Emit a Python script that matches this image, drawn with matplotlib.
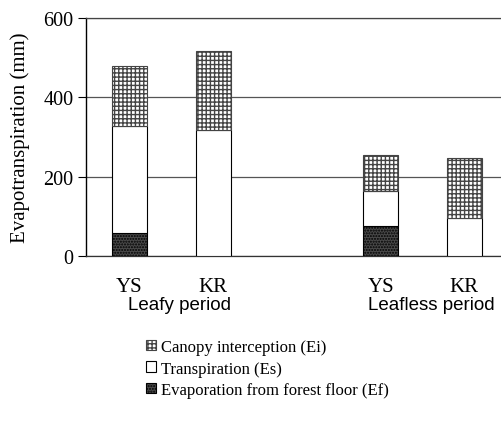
import matplotlib
matplotlib.use("Agg")
import matplotlib.pyplot as plt
from matplotlib.patches import Patch
import matplotlib.transforms as mtransforms

sites = ["YS", "KR", "YS", "KR"]
periods = ["Leafy period", "Leafless period"]
floor_evap = [58, 0, 75, 0]        # Ef
transpiration = [270, 318, 90, 97] # Es
interception = [150, 200, 90, 150] # Ei
yticks = [0, 200, 400, 600]
legend_labels = ["Canopy interception (Ei)", "Transpiration (Es)", "Evaporation from forest floor (Ef)"]

positions = [0, 1, 3, 4]

serif = ["Liberation Serif", "DejaVu Serif"]
sans = ["Liberation Sans", "DejaVu Sans"]

fig = plt.figure(figsize=(5.02, 4.31), dpi=100)
ax = fig.add_axes([86/502, (431-257)/431, 1 - 86/502, (257-19)/431])

w = 0.42
bot2 = [a + b for a, b in zip(floor_evap, transpiration)]
ef_kw = dict(facecolor="#4a4a4a", edgecolor="black", hatch="......", linewidth=0.8, zorder=3)
es_kw = dict(facecolor="white", edgecolor="black", linewidth=0.8, zorder=3)
ei_kw = dict(facecolor="white", edgecolor="#444444", hatch="++++", linewidth=0.8, zorder=3)
ax.bar(positions, floor_evap, w, **ef_kw)
ax.bar(positions, transpiration, w, bottom=floor_evap, **es_kw)
ax.bar(positions, interception, w, bottom=bot2, **ei_kw)

ax.set_xlim(-0.52, 4.45)
ax.set_ylim(0, 600)
ax.set_yticks(yticks)
ax.set_yticklabels([str(v) for v in yticks], family=serif, fontsize=14.5)
ax.tick_params(axis="y", direction="out", length=6, width=0.8, pad=3)
ax.set_xticks(positions)
ax.set_xticklabels(sites, family=serif, fontsize=15)
ax.tick_params(axis="x", length=0, pad=15)
ax.yaxis.grid(True, color="#555555", linewidth=0.9, zorder=0)
ax.set_axisbelow(True)
ax.spines["right"].set_visible(False)
ax.spines["top"].set_color("#444444")
ax.spines["top"].set_linewidth(0.9)
ax.spines["left"].set_linewidth(1.0)
ax.spines["bottom"].set_linewidth(0.9)
ax.spines["bottom"].set_color("#333333")

ax.set_ylabel("Evapotranspiration (mm)", family=serif, fontsize=15)
ax.yaxis.set_label_coords((30 - 86) / 416, 0.5)

trans = mtransforms.blended_transform_factory(ax.transData, fig.transFigure)
ax.text(0.6, 1 - 306/431, periods[0], transform=trans, ha="center", va="center",
        family=sans, fontsize=13.5)
ax.text(3.6, 1 - 306/431, periods[1], transform=trans, ha="center", va="center",
        family=sans, fontsize=13.5)

handles = [Patch(**{k: v for k, v in ei_kw.items() if k != "zorder"}),
           Patch(**{k: v for k, v in es_kw.items() if k != "zorder"}),
           Patch(**{k: v for k, v in ef_kw.items() if k != "zorder"})]
fig.legend(handles, legend_labels, loc="upper left", bbox_to_anchor=(146/502, 1 - 340/431),
           frameon=False, prop={"family": serif, "size": 12}, handlelength=0.6,
           handleheight=0.6, handletextpad=0.3, labelspacing=0.33, borderaxespad=0, borderpad=0)

fig.savefig("out.png", dpi=100)
